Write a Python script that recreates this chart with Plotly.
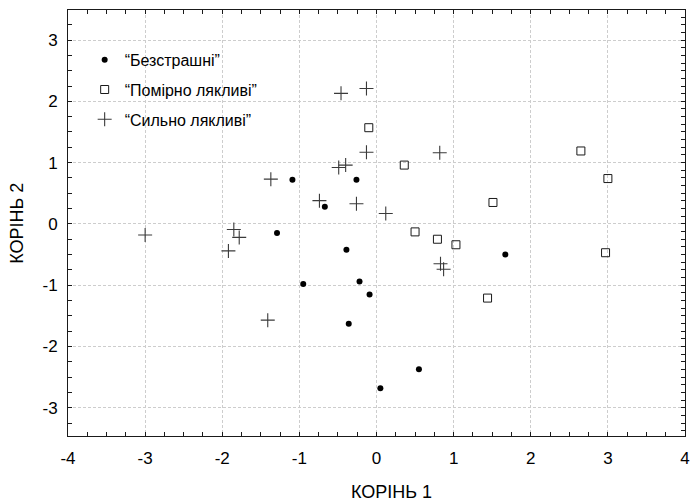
import plotly.graph_objects as go

# Data
fearless_x = [-1.09, -0.26, -0.67, -1.29, -0.39, -0.95, -0.22, -0.09, -0.36, 0.55, 0.05, 1.67]
fearless_y = [0.72, 0.72, 0.28, -0.15, -0.42, -0.98, -0.94, -1.15, -1.63, -2.37, -2.68, -0.50]

moderate_x = [-0.10, 0.36, 0.50, 0.79, 1.03, 2.65, 3.00, 1.51, 2.97, 1.44]
moderate_y = [1.57, 0.96, -0.13, -0.25, -0.34, 1.19, 0.74, 0.35, -0.47, -1.21]

strong_x = [-0.46, -0.13, -0.13, 0.82, -0.49, -0.40, -1.37, -0.74, -0.26, 0.12,
            -3.00, -1.85, -1.78, -1.92, -1.41, 0.83, 0.87]
strong_y = [2.13, 2.21, 1.17, 1.16, 0.92, 0.96, 0.73, 0.38, 0.33, 0.17,
            -0.18, -0.09, -0.22, -0.44, -1.57, -0.65, -0.74]

series_names = ["“Безстрашні”", "“Помірно лякливі”", "“Сильно лякливі”"]
x_ticks = [-4, -3, -2, -1, 0, 1, 2, 3, 4]
x_tick_labels = ["-4", "-3", "-2", "-1", "0", "1", "2", "3", "4"]
y_ticks = [-3, -2, -1, 0, 1, 2, 3]
y_tick_labels = ["-3", "-2", "-1", "0", "1", "2", "3"]
x_title = "КОРІНЬ 1"
y_title = "КОРІНЬ 2"

FONT = "Liberation Sans, Arial, sans-serif"
INK = "#1a1a1a"

fig = go.Figure()
fig.add_trace(go.Scatter(
    x=fearless_x, y=fearless_y, mode="markers", name=series_names[0],
    legendgroup="a",
    marker=dict(symbol="circle", size=6, color="black", line=dict(width=0)),
))
fig.add_trace(go.Scatter(
    x=moderate_x, y=moderate_y, mode="markers", name=series_names[1],
    legendgroup="b",
    marker=dict(symbol="square-open", size=8, color=INK, line=dict(width=1, color=INK)),
))
fig.add_trace(go.Scatter(
    x=strong_x, y=strong_y, mode="markers", name=series_names[2],
    legendgroup="c",
    marker=dict(symbol="cross-thin-open", size=10, color="#3a3a3a",
                line=dict(width=1.1, color="#3a3a3a")),
))
# dummy trace to activate the right-hand tick axis
fig.add_trace(go.Scatter(x=[None], y=[None], yaxis="y2", showlegend=False,
                         hoverinfo="skip", mode="markers"))

grid = dict(showgrid=True, gridcolor="#cdcdcd", griddash="3px,2px", gridwidth=1)

fig.update_layout(
    width=690, height=504,
    margin=dict(l=68, r=5, t=10, b=68, autoexpand=False),
    paper_bgcolor="white", plot_bgcolor="white",
    font=dict(family=FONT, size=16, color="black"),
    showlegend=True,
    legend=dict(
        x=0.027, y=0.923, xanchor="left", yanchor="top",
        bgcolor="rgba(0,0,0,0)", borderwidth=0,
        font=dict(family=FONT, size=16, color="black"),
        tracegroupgap=6, itemwidth=30,
    ),
    xaxis=dict(
        range=[-4, 4], tickvals=x_ticks, ticktext=x_tick_labels,
        ticks="inside", ticklen=4, tickwidth=1, automargin=False,
        tickcolor=INK, showline=True, linecolor=INK, linewidth=1, mirror="ticks",
        zeroline=False, tickfont=dict(size=17), ticklabelstandoff=7,
        minor=dict(dtick=0.25, ticks="inside", ticklen=4, tickcolor=INK, showgrid=False),
        **grid,
    ),
    yaxis=dict(
        range=[-3.46, 3.49], tickvals=y_ticks, ticktext=y_tick_labels,
        ticks="inside", ticklen=4, tickwidth=1, automargin=False,
        tickcolor=INK, showline=True, linecolor=INK, linewidth=1, mirror=True,
        zeroline=False, tickfont=dict(size=17), ticklabelstandoff=6,
        minor=dict(dtick=0.25, ticks="inside", ticklen=4, tickcolor=INK, showgrid=False),
        **grid,
    ),
    yaxis2=dict(
        overlaying="y", side="right", range=[-3.46, 3.49], automargin=False,
        tick0=0, dtick=0.125, ticks="inside", ticklen=4, tickwidth=1, tickcolor=INK,
        showticklabels=False, showgrid=False, zeroline=False, showline=False,
    ),
    annotations=[
        dict(text=x_title, x=0.525, y=-0.132, xref="paper", yref="paper",
             xanchor="center", yanchor="middle", showarrow=False,
             font=dict(family=FONT, size=18, color="black")),
        dict(text=y_title, x=-0.083, y=0.5, xref="paper", yref="paper",
             xanchor="center", yanchor="middle", showarrow=False, textangle=-90,
             font=dict(family=FONT, size=18, color="black")),
    ],
)

fig.write_html(
    "out.html",
    config={"displayModeBar": False},
    post_script="document.body.style.margin='0';document.body.style.padding='0';"
                "document.body.style.overflow='hidden';",
)
